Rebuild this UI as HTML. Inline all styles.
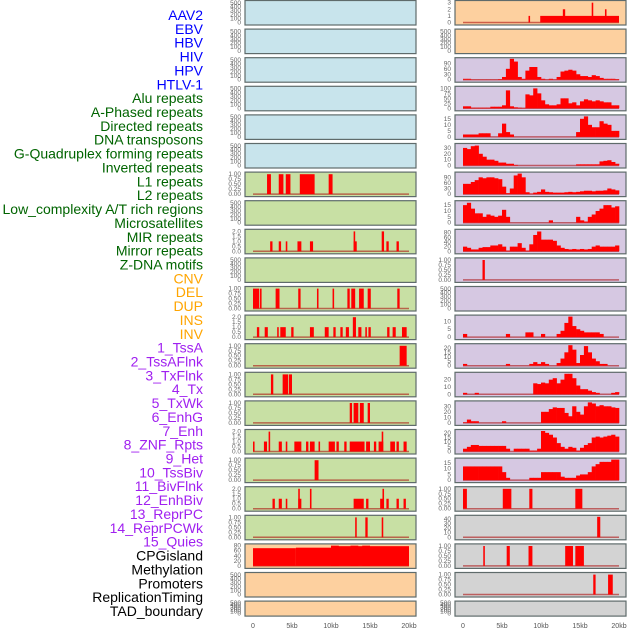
<!DOCTYPE html>
<html><head><meta charset="utf-8"><style>
body{margin:0;background:#fff;}
svg{display:block;font-family:"Liberation Sans",sans-serif;}
</style></head><body>
<svg id="c" width="630" height="630"></svg>
<script>
// ---- track labels ----
const labelNames = ["AAV2","EBV","HBV","HIV","HPV","HTLV-1","Alu repeats","A-Phased repeats","Directed repeats","DNA transposons","G-Quadruplex forming repeats","Inverted repeats","L1 repeats","L2 repeats","Low_complexity A/T rich regions","Microsatellites","MIR repeats","Mirror repeats","Z-DNA motifs","CNV","DEL","DUP","INS","INV","1_TssA","2_TssAFlnk","3_TxFlnk","4_Tx","5_TxWk","6_EnhG","7_Enh","8_ZNF_Rpts","9_Het","10_TssBiv","11_BivFlnk","12_EnhBiv","13_ReprPC","14_ReprPCWk","15_Quies","CPGisland","Methylation","Promoters","ReplicationTiming","TAD_boundary"];
const labelGroups = [0,0,0,0,0,0,1,1,1,1,1,1,1,1,1,1,1,1,1,2,2,2,2,2,3,3,3,3,3,3,3,3,3,3,3,3,3,3,3,4,4,4,4,4];
const xTickLabels = ["0","5kb","10kb","15kb","20kb"];
const xTickValues = [0,5,10,15,20];

// ---- binned series (40 bins of 0.5kb) ----
const r2Bins = [5,5,1,1,1,1,1,1,1,3,15,60,115,100,15,5,50,70,70,15,5,1,5,1,15,45,50,55,50,30,20,20,15,25,20,10,5,5,5,3];
const r3Bins = [10,10,3,3,3,3,3,8,8,8,15,90,10,5,3,1,70,65,100,75,40,20,15,15,20,50,50,25,30,15,35,45,40,35,40,35,30,30,15,15];
const r4Bins = [2,2,2,2,3,3,3,0,0,3,11,4,2,0,0,0,0,0,0,0,0,0,0,0,0,0,0,0,0,4,15,17,10,8,8,13,11,10,5,5];
const r5Bins = [30,28,33,34,20,15,10,10,8,5,5,3,3,1,0,0,0,0,0,0,0,0,0,0,0,0,0,0,0,2,2,2,2,2,2,7,8,9,6,3];
const r6Bins = [55,55,65,75,90,85,90,90,85,80,40,5,30,100,110,90,10,3,8,12,25,12,10,8,8,8,10,12,10,12,15,18,18,15,18,18,20,30,25,20];
const r7Bins = [15,17,12,8,8,5,7,6,5,6,11,5,0,0,0,0,0,0,0,0,0,0,2,0,0,0,0,0,0,5,2,1,5,7,10,12,15,15,13,14];
const r8Bins = [20,15,8,8,15,18,18,25,25,30,20,3,20,20,35,15,3,30,70,85,50,50,50,45,25,15,10,8,10,8,10,8,10,20,25,20,20,20,20,25];
const r11Bins = [2,0,0,0,0,0,0,0,0,0,0,2,0,0,0,0,3,3,0,0,2,0,0,0,2,4,9,13,7,5,4,3,3,3,3,2,0,0,0,0];
const r12Bins = [2,0,0,0,0,0,0,0,0,0,0,2,0,0,0,0,0,2,4,2,4,2,0,0,3,8,15,23,18,3,12,22,15,8,5,2,2,0,0,0];
const r13Bins = [2,0,0,2,0,0,0,0,0,0,0,0,0,0,0,0,0,0,15,14,16,15,20,22,15,20,28,28,22,12,7,7,5,3,2,0,0,0,2,3];
const r14Bins = [1,6,3,3,0,0,0,0,0,0,3,0,0,0,0,0,0,0,0,0,20,20,25,28,27,27,18,12,30,20,15,30,37,35,30,32,30,30,28,27];
const r15Bins = [3,5,7,7,6,6,6,6,6,6,6,3,0,3,3,3,3,1,1,3,22,20,18,15,9,5,3,5,4,1,4,7,9,15,16,15,16,17,18,16];
const r16Bins = [12,12,12,12,12,12,12,12,12,12,7,2,0,0,0,0,0,2,2,2,7,7,7,7,7,3,2,2,2,4,5,5,7,12,14,16,16,16,18,18];

// ---- interval series [startKb, endKb, value] ----
const r0Intervals = [[8.4,8.6,1],[9.9,20,1],[12.8,13.1,2],[16.5,16.7,3],[18.2,18.4,2]];
const r9Intervals = [[2.5,2.8,1]];
const r17Intervals = [[0,0.5,1],[5.1,6.2,1],[8.5,8.9,1],[14.4,15.3,1]];
const r18Intervals = [[17.2,17.6,45]];
const r19Intervals = [[2.6,2.8,1],[5.6,6.0,1],[8.4,8.9,1],[13.1,14.1,1],[14.4,15.5,1]];
const r20Intervals = [[16.7,17.0,1],[18.6,19.2,1]];

const l6Intervals = [[1.8,2.3,1],[3.3,3.9,1],[4.2,4.8,1],[6.0,7.9,1],[9.7,10.2,1]];
const l8Intervals = [[2.2,2.5,1],[3.3,3.6,1],[4.2,4.4,1],[5.7,6.2,1],[7.3,7.7,1],[12.9,13.3,1],[12.9,13.1,2],[16.5,16.8,2],[17.1,17.4,1],[18.4,18.7,1]];
const l10Intervals = [[0,0.8,1],[0.9,1.1,1],[2.9,3.4,1],[5.8,6.1,1],[8.2,8.4,1],[10.2,10.4,1],[12.1,12.4,1],[12.6,13.1,1],[13.6,14.2,1],[14.7,15.1,1],[18.5,18.8,1]];
const l11Intervals = [[0.5,0.8,1],[1.5,1.9,1],[3.1,3.3,1],[3.5,4.2,1],[4.9,5.2,1],[7.3,7.8,1],[9.2,9.7,1],[10.3,10.6,1],[11.2,11.5,1],[11.9,12.3,1],[12.8,13.2,2],[13.5,13.9,1],[14.4,14.6,1],[14.8,15.1,1],[17.2,17.5,1],[17.9,18.3,1],[19.1,19.7,1]];
const l12Intervals = [[18.8,19.7,1]];
const l13Intervals = [[2.3,2.6,1],[3.8,4.5,1],[4.6,5.0,1]];
const l14Intervals = [[12.4,12.7,1],[12.9,13.5,1],[13.7,14.2,1],[14.7,15.0,1]];
const l15Intervals = [[0,0.2,1],[1.4,1.8,1],[2.0,2.2,2],[3.3,3.7,1],[4.2,4.4,1],[5.3,6.2,1],[6.8,7.1,1],[7.3,7.9,1],[8.4,8.6,1],[9.7,10.5,1],[10.7,11.0,1],[11.7,12.0,1],[12.4,14.3,1],[14.5,15.0,1],[15.5,15.8,1],[16.1,16.7,1],[16.5,16.7,2],[17.6,18.2,1],[18.4,18.7,1],[19.3,19.7,1]];
const l16Intervals = [[7.9,8.4,1]];
const l17Intervals = [[2.5,2.8,1],[3.3,3.7,1],[4.2,4.4,1],[5.8,6.2,1],[5.8,6.0,2],[7.3,7.5,2],[12.9,14.2,1],[14.5,14.8,1],[16.3,16.8,1],[16.6,16.8,2],[17.1,17.4,1],[18.4,18.7,1],[19.3,19.6,1]];
const l18Intervals = [[13.1,13.3,1],[14.4,14.7,1],[16.5,16.7,1]];
const l19Intervals = [[0,5.5,70],[5.5,10,72],[10,20,78],[10,11,80],[12.5,13.5,80],[14,15,80]];

// ---- tick sets ----
const tEmpty = [0,100,200,300,400,500];
const tUnit = [0,0.25,0.5,0.75,1];
const tTwo = [0,0.5,1,1.5,2];

// panel specs: [row, side, bg, ymax, ticks, series, kind]
const B="#c8e4ec",G="#c8e0a4",O="#fdd09f",P="#d6c8e2",Q="#d3d3d3";
const panels = [];
for(let r=0;r<6;r++) panels.push([r,0,B,520,tEmpty,null,""]);
panels.push([6,0,G,1.03,tUnit,l6Intervals,"i"]);
panels.push([7,0,G,520,tEmpty,null,""]);
panels.push([8,0,G,2.06,tTwo,l8Intervals,"i"]);
panels.push([9,0,G,520,tEmpty,null,""]);
panels.push([10,0,G,1.03,tUnit,l10Intervals,"i"]);
panels.push([11,0,G,2.06,tTwo,l11Intervals,"i"]);
panels.push([12,0,G,1.03,tUnit,l12Intervals,"i"]);
panels.push([13,0,G,1.03,tUnit,l13Intervals,"i"]);
panels.push([14,0,G,1.03,tUnit,l14Intervals,"i"]);
panels.push([15,0,G,2.06,tTwo,l15Intervals,"i"]);
panels.push([16,0,G,1.03,tUnit,l16Intervals,"i"]);
panels.push([17,0,G,2.06,tTwo,l17Intervals,"i"]);
panels.push([18,0,G,1.03,tUnit,l18Intervals,"i"]);
panels.push([19,0,O,81,[0,20,40,60,80],l19Intervals,"i"]);
panels.push([20,0,O,520,tEmpty,null,""]);
panels.push([21,0,O,520,tEmpty,null,""]);

panels.push([0,1,O,3.1,[0,1,2,3],r0Intervals,"i"]);
panels.push([1,1,O,520,tEmpty,null,""]);
panels.push([2,1,P,113,[0,30,60,90],r2Bins,"b"]);
panels.push([3,1,P,103,[0,25,50,75,100],r3Bins,"b"]);
panels.push([4,1,P,17,[0,5,10,15],r4Bins,"b"]);
panels.push([5,1,P,35,[0,10,20,30],r5Bins,"b"]);
panels.push([6,1,P,110,[0,30,60,90],r6Bins,"b"]);
panels.push([7,1,P,17.5,[0,5,10,15],r7Bins,"b"]);
panels.push([8,1,P,88,[0,20,40,60,80],r8Bins,"b"]);
panels.push([9,1,P,1.03,tUnit,r9Intervals,"i"]);
panels.push([10,1,P,520,tEmpty,null,""]);
panels.push([11,1,P,13,[0,5,10],r11Bins,"b"]);
panels.push([12,1,P,23,[0,5,10,15,20],r12Bins,"b"]);
panels.push([13,1,P,28,[0,10,20],r13Bins,"b"]);
panels.push([14,1,P,37,[0,10,20,30],r14Bins,"b"]);
panels.push([15,1,P,22,[0,5,10,15,20],r15Bins,"b"]);
panels.push([16,1,P,18,[0,5,10,15],r16Bins,"b"]);
panels.push([17,1,Q,1.03,tUnit,r17Intervals,"i"]);
panels.push([18,1,Q,45,[0,10,20,30,40],r18Intervals,"i"]);
panels.push([19,1,Q,1.03,tUnit,r19Intervals,"i"]);
panels.push([20,1,Q,1.03,tUnit,r20Intervals,"i"]);
panels.push([21,1,Q,520,tEmpty,null,""]);

const NS="http://www.w3.org/2000/svg";
const svg=document.getElementById('c');
function mk(tag,attrs,parent){const e=document.createElementNS(NS,tag);for(const k in attrs)e.setAttribute(k,attrs[k]);(parent||svg).appendChild(e);return e;}

// labels
const groupColors=["#0000ff","#006400","#ffa500","#a020f0","#000000"];
labelNames.forEach((n,i)=>{
  const t=mk('text',{x:203,y:15+i*13.86+5,'text-anchor':'end','font-size':14,fill:groupColors[labelGroups[i]]});
  t.textContent=n;
  
  
});

const colX=[245,455];
const PW=171;
function xScale(side,kb){return colX[side]+8+kb*7.8;}
function fmt(v,ticks){
  if(ticks===tUnit) return v.toFixed(2);
  if(ticks===tTwo) return v.toFixed(1);
  return String(v);
}
panels.forEach(p=>{
  const [row,side,bg,ymax,ticks,series,kind]=p;
  const top=0.5+row*28.6;
  const h=row===21?15:24.5;
  const g=mk('g',{});
  
  
  mk('rect',{x:colX[side],y:top,width:PW,height:h,fill:bg,stroke:'#5f6b6b','stroke-width':1.2},g);
  const y0=top+h-2.5, span=h-4;
  const yScale=v=>y0-v/ymax*span;
  ticks.forEach(v=>{
    const t=mk('text',{x:colX[side]-4,y:yScale(v)+2,'text-anchor':'end','font-size':6.5,fill:'#666'},g);
    t.textContent=fmt(v,ticks);
    
    
  });
  if(!series) return;
  mk('line',{x1:xScale(side,0),x2:xScale(side,20),y1:y0,y2:y0,stroke:'rgba(170,0,0,0.55)','stroke-width':1.5},g);
  if(kind==="b"){
    series.forEach((v,i)=>{
      if(v<=0) return;
      const x1=xScale(side,i*0.5),x2=xScale(side,(i+1)*0.5);
      const r=mk('rect',{x:x1,y:yScale(v),width:x2-x1+0.3,height:y0-yScale(v),fill:'#ff0000'},g);
      
      
    });
  } else {
    series.forEach(s=>{
      const x1=xScale(side,s[0]),x2=xScale(side,s[1]);
      const r=mk('rect',{x:x1,y:yScale(s[2]),width:Math.max(x2-x1,1.5),height:y0-yScale(s[2]),fill:'#ff0000'},g);
      
      
    });
  }
});
// x axes
[0,1].forEach(side=>{
  xTickValues.forEach((v,i)=>{
    const t=mk('text',{x:xScale(side,v),y:628,'text-anchor':'middle','font-size':7,fill:'#555'});
    t.textContent=xTickLabels[i];
    
    
  });
});
</script>
</body></html>
